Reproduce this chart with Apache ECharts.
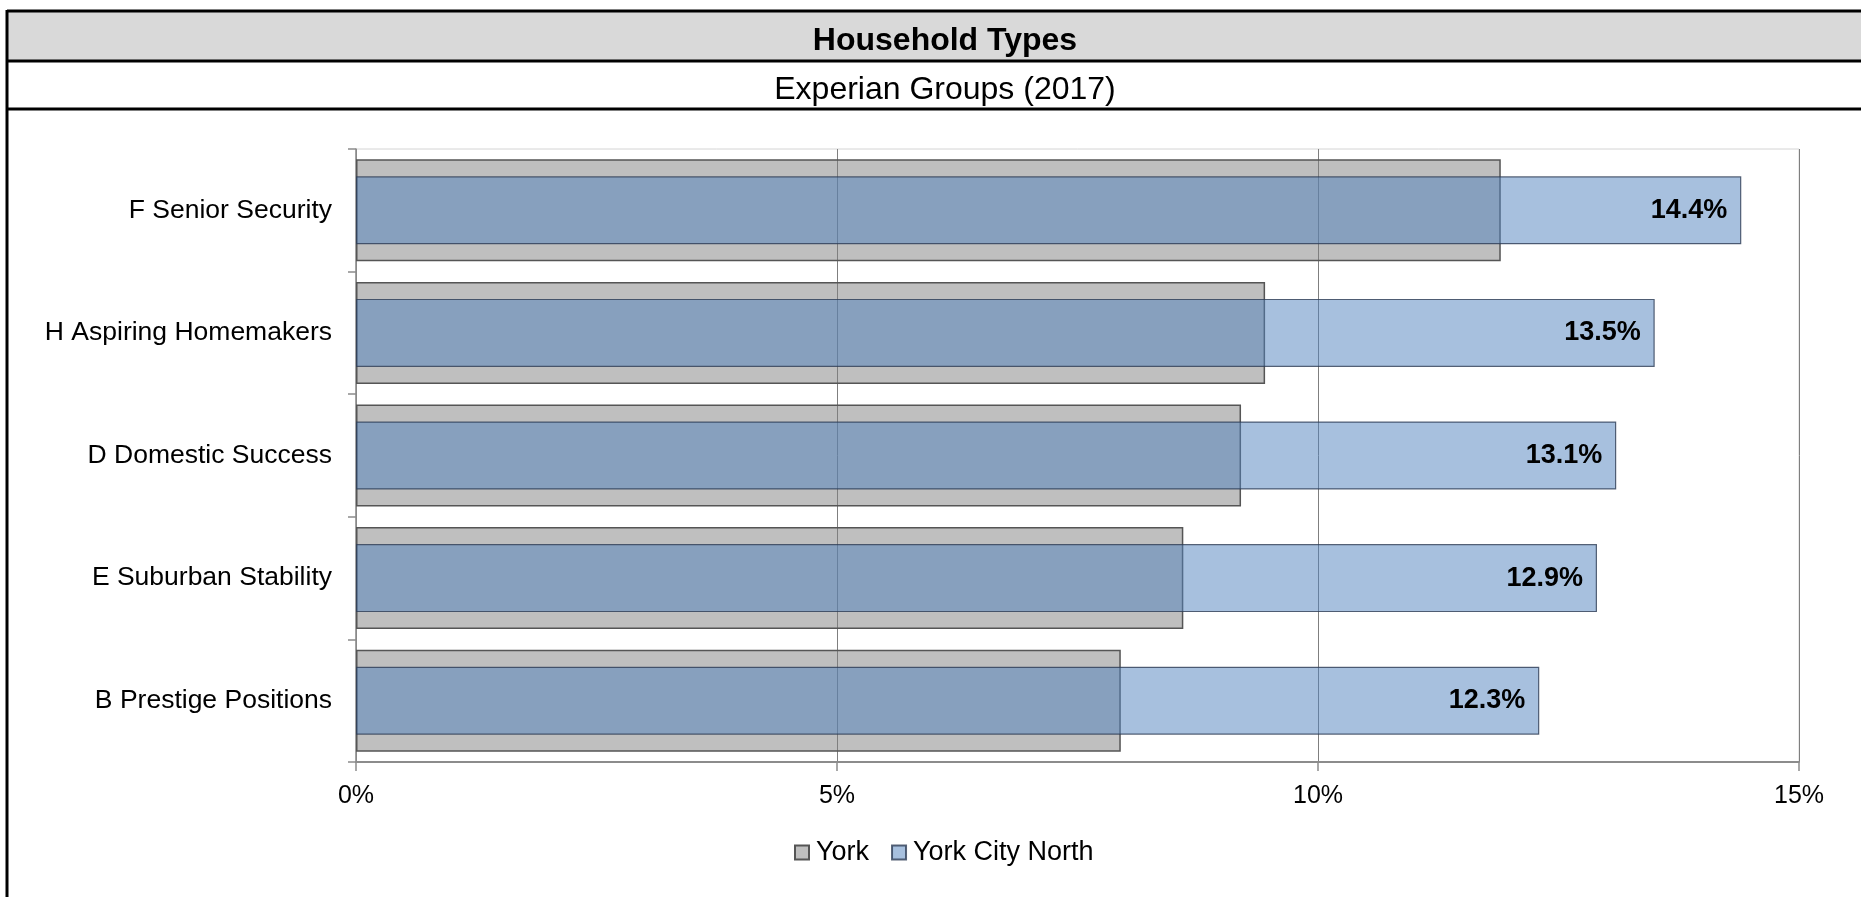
<!DOCTYPE html>
<html>
	<head>
		<meta charset="UTF-8">
		<title>Household Types</title>
		<style>
			html, body { margin: 0; padding: 0; background: #fff; }
		</style>
	</head>
	<body>
		<div id="box" style="width: 1861px;height: 897px;"></div>
		<script src="https://cdn.jsdelivr.net/npm/echarts@6/dist/echarts.min.js" type="text/javascript" charset="utf-8"></script>
		<script type="text/javascript">
			// categories, top to bottom
			const categories = ['F Senior Security', 'H Aspiring Homemakers', 'D Domestic Success', 'E Suburban Stability', 'B Prestige Positions'];
			const yorkValues = [11.9, 9.45, 9.2, 8.6, 7.95];
			const northValues = [14.4, 13.5, 13.1, 12.9, 12.3];
			const seriesNames = ['York', 'York City North'];
			const xTicks = [0, 5, 10, 15];

			const font = 'Arial, "Liberation Sans", sans-serif';
			const myChart = echarts.init(document.getElementById('box'));

			const option = {
			    animation: false,
			    textStyle: { fontFamily: font },
			    graphic: [
			        // title band
			        { type: 'rect', shape: { x: 7, y: 11, width: 1860, height: 49 }, style: { fill: '#d9d9d9' }, silent: true },
			        { type: 'line', shape: { x1: 7, y1: 11, x2: 1861, y2: 11 }, style: { stroke: '#000', lineWidth: 3 } },
			        { type: 'line', shape: { x1: 7, y1: 61, x2: 1861, y2: 61 }, style: { stroke: '#000', lineWidth: 3 } },
			        { type: 'line', shape: { x1: 7, y1: 109, x2: 1861, y2: 109 }, style: { stroke: '#000', lineWidth: 3 } },
			        { type: 'line', shape: { x1: 7, y1: 10, x2: 7, y2: 897 }, style: { stroke: '#000', lineWidth: 3 } },
			        {
			            type: 'text', x: 945, y: 41,
			            style: { text: 'Household Types', font: 'bold 32px ' + font, fill: '#000', align: 'center', verticalAlign: 'middle' }
			        },
			        {
			            type: 'text', x: 945, y: 90,
			            style: { text: 'Experian Groups (2017)', font: '32px ' + font, fill: '#000', align: 'center', verticalAlign: 'middle' }
			        }
			    ],
			    legend: {
			        data: seriesNames,
			        left: 789,
			        top: 834,
			        icon: 'rect',
			        itemWidth: 14,
			        itemHeight: 14,
			        itemGap: 22,
			        textStyle: { fontSize: 27, color: '#000', padding: [0, 0, 0, 2] }
			    },
			    grid: {
			        left: 356,
			        right: 62,
			        top: 149,
			        bottom: 135,
			        show: true,
			        borderColor: '#d4d4d4',
			        borderWidth: 1
			    },
			    xAxis: {
			        type: 'value',
			        min: xTicks[0],
			        max: xTicks[xTicks.length - 1],
			        interval: 5,
			        axisLine: { show: true, lineStyle: { color: '#8c8c8c', width: 2 } },
			        axisTick: { show: true, length: 9, lineStyle: { color: '#8c8c8c', width: 1.5 } },
			        axisLabel: { formatter: '{value}%', fontSize: 25, color: '#000', margin: 22 },
			        splitLine: { show: true, lineStyle: { color: '#7f7f7f', width: 1 } }
			    },
			    yAxis: [{
			        type: 'category',
			        data: categories,
			        inverse: true,
			        axisLine: { show: true, lineStyle: { color: '#8c8c8c', width: 1.5 } },
			        axisTick: { show: true, length: 8, lineStyle: { color: '#8c8c8c', width: 1.5 } },
			        axisLabel: { fontSize: 26.5, color: '#000', margin: 24 },
			        splitLine: { show: false }
			    }, {
			        type: 'category',
			        data: categories,
			        inverse: true,
			        show: false
			    }],
			    series: [{
			        name: seriesNames[0],
			        type: 'bar',
			        yAxisIndex: 0,
			        data: yorkValues,
			        barWidth: 102,
			        itemStyle: {
			            color: 'rgba(128,128,128,0.5)',
			            borderColor: '#555555',
			            borderWidth: 1.5
			        }
			    }, {
			        name: seriesNames[1],
			        type: 'bar',
			        yAxisIndex: 1,
			        data: northValues,
			        barWidth: 68,
			        itemStyle: {
			            color: 'rgba(79,129,189,0.5)',
			            borderColor: 'rgba(45,60,85,0.8)',
			            borderWidth: 1.2
			        },
			        label: {
			            show: true,
			            position: 'insideRight',
			            distance: 14,
			            formatter: function (p) { return p.value.toFixed(1) + '%'; },
			            fontSize: 27,
			            fontWeight: 'bold',
			            color: '#000'
			        }
			    }]
			};

			myChart.setOption(option);
		</script>
	</body>
</html>
